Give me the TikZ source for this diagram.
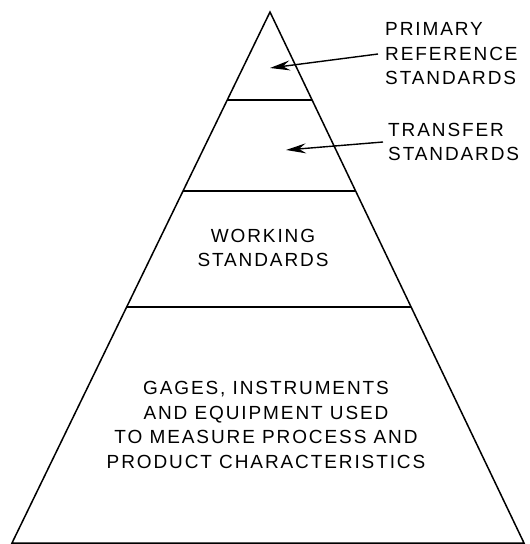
\documentclass[tikz,border=0pt]{standalone}
\usepackage{fontspec}
\setmainfont{Liberation Sans}[LetterSpace=10]
\usetikzlibrary{calc,arrows.meta}
\colorlet{pyramid edge}{black}
\tikzset{outline/.style={draw=pyramid edge, line width=1.5pt},
    sidetext/.style={font=\fontsize{19}{24.5}\selectfont, align=left, inner sep=0pt, anchor=west},
    tiertext/.style={font=\fontsize{19}{24.5}\selectfont, align=center, inner sep=0pt},
    pointer/.style={-{Stealth[length=20pt,width=10pt,inset=7pt]}, line width=1.4pt}}

\begin{document}
\begin{tikzpicture}[x=1pt, y=-1pt]
    \useasboundingbox (0,0) rectangle (530,544);
    \coordinate (apex) at (270,12);
    \coordinate (baseL) at (12,543);
    \coordinate (baseR) at (524,543);
    \draw[outline] (baseL) -- (apex) -- (baseR) -- cycle;
    % dividing lines between the tiers
    \foreach \t in {0.1657, 0.337, 0.5556}
        \draw[outline] ($(apex)!\t!(baseL)$) -- ($(apex)!\t!(baseR)$);

    \node[sidetext] (primary) at (385,54) {PRIMARY\\REFERENCE\\STANDARDS};
    \node[sidetext] (transfer) at (388,142) {TRANSFER\\STANDARDS};
    \node[tiertext] (working) at (263,248) {WORKING\\STANDARDS};
    \node[tiertext] (gages) at (266,425)
        {GAGES, INSTRUMENTS\\AND EQUIPMENT USED\\TO MEASURE PROCESS AND\\PRODUCT CHARACTERISTICS};

    \coordinate (primarytip) at (270,68);
    \coordinate (transfertip) at (286,150);
    \draw[pointer] ([xshift=-7pt]primary.west) -- (primarytip);
    \draw[pointer] ([xshift=-5pt]transfer.west) -- (transfertip);
\end{tikzpicture}
\end{document}
